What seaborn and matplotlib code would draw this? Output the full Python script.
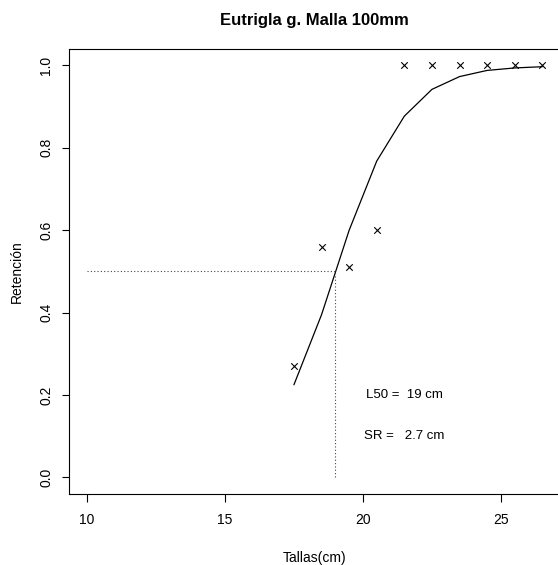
import matplotlib
matplotlib.use("Agg")
import matplotlib.pyplot as plt
import seaborn as sns
import pandas as pd

# ---- data ----
tallas_obs = [17.5, 18.5, 19.5, 20.5, 21.5, 22.5, 23.5, 24.5, 25.5, 26.5]
retencion_obs = [0.27, 0.56, 0.51, 0.60, 1.0, 1.0, 1.0, 1.0, 1.0, 1.0]
tallas_fit = [17.5, 18.5, 19.5, 20.5, 21.5, 22.5, 23.5, 24.5, 25.5, 26.5]
retencion_fit = [0.225, 0.395, 0.60, 0.768, 0.877, 0.942, 0.973, 0.988, 0.994, 0.997]
L50 = 19
SR = 2.7
ref_start = 10
xticks = [10, 15, 20, 25]
yticks = [0.0, 0.2, 0.4, 0.6, 0.8, 1.0]
title = "Eutrigla g. Malla 100mm"

obs = pd.DataFrame({"x": tallas_obs, "y": retencion_obs})
fit = pd.DataFrame({"x": tallas_fit, "y": retencion_fit})

sns.set_theme(style="ticks", rc={"text.color": "black", "axes.labelcolor": "black",
                                 "xtick.color": "black", "ytick.color": "black",
                                 "axes.edgecolor": "black"})
plt.rcParams["font.family"] = ["Liberation Sans", "DejaVu Sans"]

fig = plt.figure(figsize=(5.58, 5.65), dpi=100)
ax = fig.add_axes([0.1231, 0.1257, 0.8815, 0.7876])

sns.lineplot(data=fit, x="x", y="y", ax=ax, color="black", linewidth=0.9,
             estimator=None, sort=False)
sns.scatterplot(data=obs, x="x", y="y", ax=ax, marker="x", color="black",
                s=22, linewidth=0.8)

# reference lines at L50
ax.plot([ref_start, L50], [0.5, 0.5], linestyle=(0, (1, 2)), color="#444444", linewidth=0.8)
ax.plot([L50, L50], [0.0, 0.5], linestyle=(0, (1, 2)), color="#444444", linewidth=0.8)

ax.text(21.5, 0.2, f"L50 =  {L50:g} cm", ha="center", va="center", fontsize=9.5, color="black")
ax.text(21.5, 0.1, f"SR =   {SR:g} cm", ha="center", va="center", fontsize=9.5, color="black")

ax.set_xlim(9.34, 27.16)
ax.set_ylim(-0.04, 1.04)
ax.set_xticks(xticks)
ax.set_yticks(yticks)
ax.set_xticklabels([str(t) for t in xticks], fontsize=10)
ax.set_yticklabels([f"{t:.1f}" for t in yticks], fontsize=10, rotation=90, va="center")
ax.tick_params(axis="x", length=6, width=0.8, pad=8, color="black", labelcolor="black")
ax.tick_params(axis="y", length=5, width=0.8, pad=6, color="black", labelcolor="black")

for sp in ax.spines.values():
    sp.set_visible(True)
    sp.set_color("black")
    sp.set_linewidth(0.8)

ax.set_xlabel("Tallas(cm)", fontsize=10, color="black")
ax.set_ylabel("Retención", fontsize=10, color="black")
ax.xaxis.set_label_coords(0.5, -0.143)
ax.xaxis.label.set_va("center")
ax.yaxis.set_label_coords(-0.105, 0.5)
ax.yaxis.label.set_va("center")

ax.set_title(title, fontsize=12, fontweight="bold", y=1.0636, va="center", pad=0, color="black")

fig.savefig("out.png", dpi=100)
